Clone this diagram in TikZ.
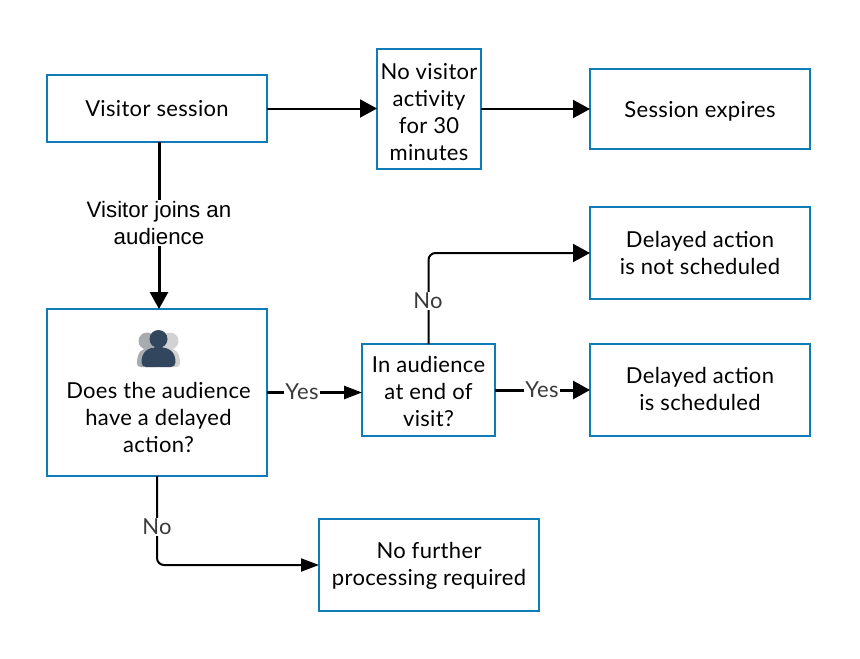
\documentclass[tikz,border=0pt]{standalone}
\usepackage{fontspec}
\setmainfont[LetterSpace=1.5]{Lato}
\newfontfamily\arialf{Liberation Sans}
\usetikzlibrary{arrows.meta}
\definecolor{boxblue}{HTML}{0F7CB8}
\definecolor{lblgray}{HTML}{3A3A3A}
\definecolor{iconnavy}{HTML}{32475E}
\tikzset{
  flowbox/.style={draw=boxblue,line width=2.3pt,fill=white,align=center,inner sep=0pt,outer sep=0pt,
    font=\fontsize{22}{27}\selectfont,text=black},
  conn/.style={line width=2pt,black,-{Triangle[length=17pt,width=18pt]}},
  connthick/.style={line width=3pt,black,-{Triangle[length=17pt,width=18pt]}},
  connsmall/.style={line width=2.5pt,black,-{Triangle[length=18pt,width=13pt]}},
  edgelabel/.style={fill=white,inner sep=1.5pt,text=lblgray,font=\fontsize{22}{24}\selectfont},
}
\begin{document}
\begin{tikzpicture}[x=1pt,y=-1pt]
\useasboundingbox[fill=white] (0,0) rectangle (860,659);
\node[flowbox,minimum width=220pt,minimum height=67pt] (vs) at (157,108.5) {Visitor session};
\node[flowbox,minimum width=104pt,minimum height=120pt] (nv) at (429,109) {\rule{0pt}{23pt}No visitor\\activity\\for 30\\minutes};
\node[flowbox,minimum width=220pt,minimum height=80pt] (se) at (700,109) {\rule{0pt}{20pt}Session expires};
\node[flowbox,minimum width=220pt,minimum height=167pt] (au) at (157,392.5) {};
\node[flowbox,minimum width=133pt,minimum height=92pt] (ia) at (428.5,390) {\rule{0pt}{20pt}In audience\\at end of\\visit?};
\node[flowbox,minimum width=220pt,minimum height=92pt] (dn) at (700,253) {Delayed action\\is not scheduled};
\node[flowbox,minimum width=220pt,minimum height=92pt] (ds) at (700,390) {Delayed action\\is scheduled\rule[-2pt]{0pt}{2pt}};
\node[flowbox,minimum width=220pt,minimum height=92pt] (nf) at (429,565) {\rule{0pt}{18pt}No further\\processing required};
\node[font=\fontsize{22}{27}\selectfont,align=center,inner sep=0pt] (aut) at (158.5,417.5) {Does the audience\\have a delayed\\action?};
% icon
\fill[gray!60!iconnavy!55!white] (147,341) circle (8.5);
\fill[gray!60!iconnavy!55!white] (137,363) .. controls (137,351) and (143,348) .. (150,348) -- (155,348) -- (155,367) -- (141,367) .. controls (138,367) and (137,366) .. (137,363) -- cycle;
\fill[gray!35!white] (170,341) circle (8.5);
\fill[gray!35!white] (180,363) .. controls (180,351) and (174,348) .. (167,348) -- (160,348) -- (160,367) -- (176,367) .. controls (179,367) and (180,366) .. (180,363) -- cycle;
\fill[iconnavy] (158.5,339) circle (9);
\fill[iconnavy] (141.5,362) .. controls (141.5,352) and (148,347) .. (158.5,347) .. controls (169,347) and (175.5,352) .. (175.5,362) .. controls (175.5,365) and (174,367) .. (171,367) -- (146,367) .. controls (143,367) and (141.5,365) .. (141.5,362) -- cycle;
% connectors
\draw[conn] (vs.east) -- (nv.west |- vs.east);
\draw[conn] (nv.east) -- (se.west);
\draw[connthick] ([xshift=2pt]vs.south) -- ([xshift=2pt]au.north);
\draw[connsmall] (au.east) -- (ia.west |- au.east);
\draw[connthick] (ia.east) -- (ds.west);
\draw[conn,rounded corners=7pt] (ia.north) |- (dn.west);
\draw[connsmall,line width=2pt,rounded corners=7pt] (au.south) |- (nf.west);
% labels
\node[fill=white,inner sep=1pt,align=center,font=\arialf\fontsize{22.3}{27}\selectfont] (lj) at (159,223) {Visitor joins an\\audience};
\node[edgelabel] (ly1) at (302,392) {Yes};
\node[edgelabel] (ly2) at (542,390) {Yes};
\node[edgelabel] (ln1) at (428,301) {No};
\node[edgelabel] (ln2) at (157,527) {No};
\end{tikzpicture}
\end{document}
